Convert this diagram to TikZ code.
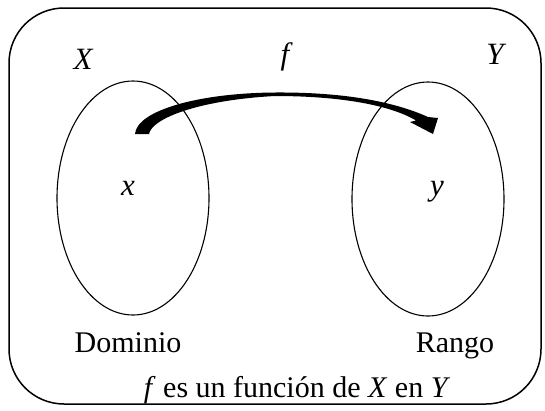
\documentclass[tikz,border=0pt]{standalone}
\usepackage{fontspec}
\setmainfont{Liberation Serif}
\usetikzlibrary{shapes.geometric}
\begin{document}
\begin{tikzpicture}[x=1pt,y=-1pt,
  set/.style={draw,ellipse,line width=1.1pt,minimum width=152pt,minimum height=234pt,inner sep=0pt},
  lbl/.style={font=\fontsize{30}{32}\selectfont,inner sep=0pt,anchor=base},
  mlbl/.style={font=\fontsize{31}{33}\selectfont\itshape,inner sep=0pt,anchor=base}]
\useasboundingbox (0,0) rectangle (545,410);
\draw[line width=1.5pt,rounded corners=55pt] (9,8) rectangle (541,404);
\node[set] (A) at (133,198) {};
\node[set] (B) at (428,199) {};
\node[mlbl] (X) at (83,69) {X};
\node[mlbl] (f) at (285,64) {f};
\node[mlbl] (Y) at (495,64) {Y};
\node[mlbl] (x) at (128,195) {x};
\node[mlbl] (y) at (437,195) {y};
\node[lbl] (dom) at (128,352) {Dominio};
\node[lbl] (ran) at (455,352) {Rango};
\node[lbl] (cap) at (297,397) {\textit{f} es un función de \textit{X} en \textit{Y}};
% tapered curved arrow from x to y
\fill (135,134) .. controls (137,110) and (200,93) .. (275,92.5)
  .. controls (345,92) and (395,102) .. (428,117)
  -- (438,118) -- (433,134) -- (410,122) -- (416,120.5)
  .. controls (390,105) and (340,96) .. (275,96)
  .. controls (200,100) and (152,118) .. (149,134) -- cycle;
\end{tikzpicture}
\end{document}
